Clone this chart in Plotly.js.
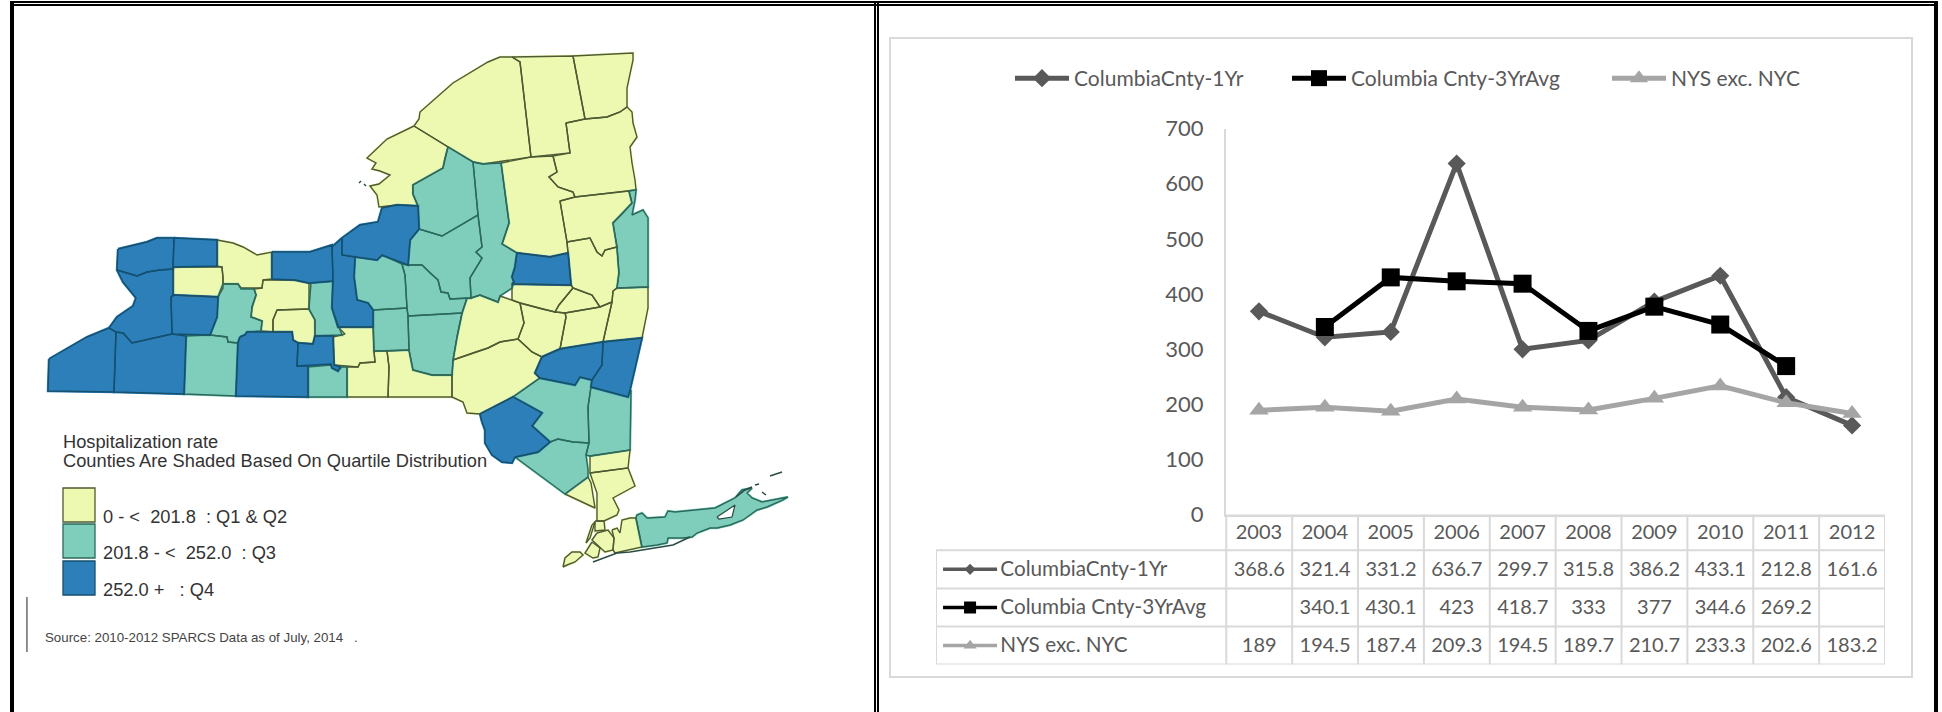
<!DOCTYPE html>
<html><head><meta charset="utf-8">
<script src="https://cdn.plot.ly/plotly-3.0.1.min.js"></script>
<style>html,body{margin:0;padding:0;background:#fff}#chart{width:1942px;height:712px}</style>
</head><body><div id="chart"></div>
<script>
// ---------- chart data ----------
const years = ['2003','2004','2005','2006','2007','2008','2009','2010','2011','2012'];
const columbia1Yr = [368.6,321.4,331.2,636.7,299.7,315.8,386.2,433.1,212.8,161.6];
const columbia3Yr = [null,340.1,430.1,423,418.7,333,377,344.6,269.2,null];
const nysExcNyc   = [189,194.5,187.4,209.3,194.5,189.7,210.7,233.3,202.6,183.2];
const seriesNames = ['ColumbiaCnty-1Yr','Columbia Cnty-3YrAvg','NYS exc. NYC'];
const seriesColors = ['#595959','#000000','#A5A5A5'];
const seriesSymbols = ['diamond','square','triangle-up'];
const yTicks = [0,100,200,300,400,500,600,700];

// ---------- map data: county outlines, map units ----------
const lowCounties = [ // Q1 & Q2
 [[173,267],[222,267],[223,278],[223,288],[218,297],[173,295]],
 [[217,240],[233,243],[243,247],[257,255],[272,252],[272,279],[263,280],[262,288],[241,288],[238,284],[223,284],[223,278],[222,267],[217,266]],
 [[263,280],[295,280],[309,283],[309,309],[277,310],[273,320],[273,332],[261,331],[262,321],[251,317],[252,307],[256,295],[254,289],[262,288]],
 [[277,310],[309,309],[315,320],[315,336],[313,344],[298,343],[293,340],[292,332],[273,332],[273,320]],
 [[414,126],[387,139],[367,158],[376,163],[372,169],[380,171],[390,175],[379,184],[370,186],[377,195],[379,207],[397,205],[418,206],[413,194],[413,185],[443,168],[445,158],[448,147]],
 [[414,126],[419,119],[420,112],[453,83],[488,62],[500,57],[512,57],[520,62],[531,157],[483,164],[473,162],[448,147]],
 [[512,57],[573,56],[585,119],[566,123],[570,153],[531,157],[520,62]],
 [[573,56],[633,53],[633,60],[630,73],[627,88],[627,107],[620,112],[607,117],[585,119]],
 [[566,123],[585,119],[607,117],[620,112],[627,107],[632,112],[633,123],[637,137],[630,147],[632,163],[635,180],[636,190],[575,197],[573,192],[558,187],[549,177],[557,172],[553,156],[570,153]],
 [[501,163],[531,157],[553,156],[557,172],[549,177],[558,187],[573,192],[575,197],[560,201],[567,242],[568,253],[550,257],[517,253],[502,244],[509,223]],
 [[512,284],[571,285],[573,288],[559,305],[555,312],[542,309],[520,303],[512,300]],
 [[567,242],[590,238],[597,252],[602,256],[605,250],[617,247],[619,273],[617,288],[613,291],[612,302],[600,307],[592,295],[573,288],[571,285],[568,253]],
 [[560,201],[575,197],[629,191],[632,203],[623,213],[613,223],[617,247],[605,250],[602,256],[597,252],[590,238],[567,242]],
 [[613,291],[617,288],[648,287],[648,308],[642,338],[603,342],[612,302]],
 [[573,288],[592,295],[600,307],[565,313],[555,312],[559,305]],
 [[565,313],[600,307],[612,302],[603,342],[560,349],[566,317]],
 [[520,303],[542,309],[555,312],[565,313],[566,317],[560,349],[542,357],[532,352],[518,339],[524,323]],
 [[467,298],[471,298],[480,295],[498,302],[500,296],[512,300],[520,303],[524,323],[518,339],[500,342],[488,348],[473,353],[453,360],[457,337],[462,313]],
 [[453,360],[473,353],[488,348],[500,342],[518,339],[532,352],[542,357],[535,373],[540,378],[513,397],[480,414],[467,413],[463,402],[452,397],[452,375]],
 [[338,327],[373,327],[374,351],[375,362],[360,363],[358,367],[334,365],[333,337],[345,334]],
 [[347,367],[358,367],[360,363],[375,362],[374,351],[387,351],[389,367],[388,397],[347,397]],
 [[387,351],[409,350],[413,370],[432,375],[452,375],[452,397],[388,397],[389,367]],
 [[590,456],[630,450],[628,468],[590,473]],
 [[565,494],[588,477],[591,483],[595,508]],
 [[590,473],[628,468],[635,486],[613,498],[619,510],[617,515],[604,521],[597,521],[597,493],[592,480]],
 [[595,521],[604,521],[605,530],[595,531]],
 [[592,525],[595,522],[590,538],[586,543]],
 [[597,533],[608,530],[614,538],[613,550],[605,552],[600,547],[592,540]],
 [[592,542],[600,548],[598,557],[593,558],[585,553]],
 [[563,567],[565,558],[572,552],[580,552],[583,555],[575,562],[567,565]],
 [[612,530],[617,528],[620,533],[622,520],[630,518],[636,518],[642,547],[628,550],[615,553],[613,550],[614,538]]
];
const midCounties = [ // Q3
 [[223,284],[238,284],[241,289],[254,289],[256,295],[252,307],[251,317],[262,321],[261,331],[247,332],[245,335],[240,337],[238,343],[228,342],[227,337],[210,335],[217,317],[218,297]],
 [[311,283],[333,281],[332,308],[342,335],[315,336],[315,320],[309,309]],
 [[355,257],[370,259],[377,260],[382,255],[387,257],[402,264],[405,275],[407,308],[373,310],[368,303],[357,300],[354,277]],
 [[402,264],[408,265],[422,265],[430,273],[438,280],[441,292],[448,293],[450,299],[467,298],[462,313],[408,316],[407,308],[405,275]],
 [[410,240],[419,229],[442,236],[478,215],[482,247],[476,252],[482,258],[470,278],[471,298],[450,299],[448,293],[441,292],[438,280],[430,273],[422,265],[408,265]],
 [[448,147],[445,158],[443,168],[413,185],[413,194],[418,206],[419,229],[442,236],[478,215],[473,162]],
 [[473,162],[483,164],[501,163],[509,223],[502,244],[517,253],[515,267],[512,277],[514,282],[512,288],[500,296],[498,302],[480,295],[471,298],[470,278],[482,258],[476,252],[482,247],[478,215]],
 [[629,191],[636,190],[635,200],[632,215],[643,210],[648,218],[648,287],[617,288],[619,273],[617,247],[613,223],[623,213],[632,203]],
 [[408,316],[462,313],[457,337],[453,360],[452,375],[432,375],[413,370],[409,350]],
 [[373,310],[407,308],[408,316],[409,350],[374,351]],
 [[186,336],[210,335],[227,337],[228,342],[238,343],[236,396],[184,394]],
 [[308,367],[331,365],[332,368],[338,371],[342,367],[347,367],[347,397],[308,397]],
 [[513,397],[540,378],[575,385],[580,377],[592,380],[591,387],[588,407],[589,443],[573,442],[558,439],[550,442],[532,426],[542,413]],
 [[591,387],[628,397],[631,390],[630,450],[590,456],[586,455],[589,443],[588,407]],
 [[515,457],[538,452],[550,442],[558,439],[573,442],[589,443],[586,455],[588,470],[588,477],[565,494]],
 [[636,518],[637,515],[642,513],[647,518],[649,518],[665,517],[668,511],[675,512],[715,508],[735,498],[742,490],[752,488],[747,493],[752,498],[762,502],[773,500],[788,497],[783,500],[767,507],[757,510],[743,520],[730,525],[717,528],[710,528],[697,533],[692,537],[683,538],[668,538],[667,543],[657,545],[642,547]]
];
const highCounties = [ // Q4
 [[49,359],[87,337],[109,328],[116,332],[114,392],[48,391]],
 [[116,332],[123,333],[132,343],[172,334],[186,336],[184,394],[114,392]],
 [[117,270],[127,273],[137,276],[147,272],[160,270],[173,269],[173,296],[171,297],[172,334],[132,343],[123,333],[116,332],[109,328],[117,317],[133,306],[136,298],[123,282]],
 [[118,249],[147,242],[157,238],[174,238],[173,269],[160,270],[147,272],[137,276],[127,273],[117,270]],
 [[174,238],[217,240],[217,266],[173,267]],
 [[171,297],[173,295],[218,297],[217,317],[210,335],[172,334]],
 [[272,252],[310,252],[332,245],[333,281],[309,283],[295,280],[272,279]],
 [[332,247],[342,238],[342,255],[355,257],[354,277],[357,300],[368,303],[373,310],[373,327],[338,327],[332,308],[333,281]],
 [[342,238],[360,225],[378,222],[382,208],[397,205],[418,206],[419,229],[410,240],[408,265],[387,257],[382,255],[377,260],[370,259],[355,257],[342,255]],
 [[517,253],[550,257],[568,253],[571,285],[512,284],[514,282],[512,277],[515,267]],
 [[240,337],[245,335],[247,332],[292,332],[293,340],[298,343],[297,366],[308,366],[308,397],[236,396],[238,343]],
 [[298,343],[313,344],[315,336],[333,336],[334,365],[340,367],[338,371],[332,368],[331,364],[297,366]],
 [[480,414],[513,397],[542,413],[532,426],[550,442],[538,452],[515,457],[512,463],[502,462],[492,455],[485,443],[485,430],[482,422]],
 [[542,357],[560,349],[603,342],[602,365],[592,380],[580,377],[575,385],[540,378],[535,373]],
 [[603,342],[642,338],[630,390],[628,397],[591,387],[592,380],[602,365]]
];
const waterOutlines = [ // Peconic Bay
 [[717,517],[735,505],[732,517],[719,519]]
];
const shoreLines = [ // barrier beach and small islands, no fill
 [[593,562],[617,553],[630,552],[647,549],[673,545],[690,537]],
 [[770,476],[782,472]],
 [[755,485],[759,484]],
 [[762,492],[766,495]],
 [[359,183],[361,181]],
 [[364,184],[366,186]],
 [[736,497],[745,490],[752,487]]
];
const quartileColors = ['#EDF8B1','#7FCDBB','#2C7FB8'];
const quartileLabels = ['0 - <  201.8  : Q1 & Q2','201.8 - <  252.0  : Q3','252.0 +   : Q4'];
const quartileEdges = ['#4d5a32','#2a6a5c','#14506f'];
const mapTitleLines = ['Hospitalization rate','Counties Are Shaded Based On Quartile Distribution'];
const sourceNote = 'Source: 2010-2012 SPARCS Data as of July, 2014';

// ---------- helpers ----------
const W = 1942, H = 712;
const fx = p => p / W, fy = p => 1 - p / H;
function flatten(polys, i){ const out=[]; polys.forEach(p=>{p.forEach(v=>out.push(v[i])); out.push(p[0][i]); out.push(null);}); return out; }
function openFlat(polys, i){ const out=[]; polys.forEach(p=>{p.forEach(v=>out.push(v[i])); out.push(null);}); return out; }

const traces = [];
const mapGroups = [lowCounties,midCounties,highCounties];
// fills, with a stroke of the same colour to close hairline gaps between traced outlines
mapGroups.forEach((polys,q)=>{
  traces.push({type:'scatter',mode:'lines',x:flatten(polys,0),y:flatten(polys,1),xaxis:'x3',yaxis:'y3',
    fill:'toself',fillcolor:quartileColors[q],line:{color:quartileColors[q],width:2.5},
    showlegend:false,hoverinfo:'skip',name:quartileLabels[q]});
});
// county outlines
mapGroups.forEach((polys,q)=>{
  traces.push({type:'scatter',mode:'lines',x:flatten(polys,0),y:flatten(polys,1),xaxis:'x3',yaxis:'y3',
    line:{color:quartileEdges[q],width:1.4},showlegend:false,hoverinfo:'skip'});
});
traces.push({type:'scatter',mode:'lines',x:flatten(waterOutlines,0),y:flatten(waterOutlines,1),xaxis:'x3',yaxis:'y3',
  fill:'toself',fillcolor:'#ffffff',line:{color:'#2a4a44',width:1.2},showlegend:false,hoverinfo:'skip'});
traces.push({type:'scatter',mode:'lines',x:openFlat(shoreLines,0),y:openFlat(shoreLines,1),xaxis:'x3',yaxis:'y3',
  line:{color:'#2a4a44',width:1.5},showlegend:false,hoverinfo:'skip'});

// line chart
const seriesValues = [columbia1Yr,columbia3Yr,nysExcNyc];
const markerSizes = [14,18,17];
const keySizes = [8.5,12,11.5];
const legendIds = ['legend','legend2','legend3'];
[0,1,2].forEach(i=>{
  traces.push({type:'scatter',mode:'lines+markers',name:seriesNames[i],x:years,y:seriesValues[i],legend:legendIds[i],
    line:{color:seriesColors[i],width:5},
    marker:{symbol:seriesSymbols[i],size:markerSizes[i],color:seriesColors[i]},cliponaxis:false,connectgaps:false});
});

// data table
const labelX = -3.93, keyX = [-4.8,-4.39,-3.98], textNudge = 0.04;
seriesNames.forEach((nm,i)=>{
  const rowY = i + 0.5;
  traces.push({type:'scatter',mode:'lines',x:keyX,y:keyX.map(()=>rowY),xaxis:'x2',yaxis:'y2',
    line:{color:seriesColors[i],width:3.5},showlegend:false,hoverinfo:'skip'});
  traces.push({type:'scatter',mode:'markers',x:[keyX[1]],y:[rowY],xaxis:'x2',yaxis:'y2',
    marker:{symbol:seriesSymbols[i],size:keySizes[i],color:seriesColors[i]},showlegend:false,hoverinfo:'skip'});
  traces.push({type:'scatter',mode:'text',x:[labelX],y:[rowY+textNudge],text:[nm],textposition:'middle right',xaxis:'x2',yaxis:'y2',
    textfont:{family:'Lato',size:20.7,color:'#595959'},showlegend:false,hoverinfo:'skip',cliponaxis:false});
  const xs=[],ys=[],ts=[];
  seriesValues[i].forEach((v,c)=>{ if(v!==null){xs.push(c);ys.push(rowY+textNudge);ts.push(String(v));} });
  traces.push({type:'scatter',mode:'text',x:xs,y:ys,text:ts,textposition:'middle center',xaxis:'x2',yaxis:'y2',
    textfont:{family:'Lato',size:20,color:'#595959'},showlegend:false,hoverinfo:'skip',cliponaxis:false});
});

// shapes
const shapes = [];
function band(x0,y0,x1,y1,color){ shapes.push({type:'rect',xref:'paper',yref:'paper',x0:fx(x0),x1:fx(x1),y0:fy(y0),y1:fy(y1),fillcolor:color,line:{width:0},layer:'below'}); }
band(10,1,1938,3,'#000'); band(10,4,1938,6,'#000');
band(10,1,14,712,'#000'); band(874,1,876,712,'#000'); band(877,1,879,712,'#000'); band(1934,1,1938,712,'#000');
band(26.3,597,27.6,652,'#555');
shapes.push({type:'rect',xref:'paper',yref:'paper',x0:fx(890),x1:fx(1912),y0:fy(38),y1:fy(677),fillcolor:'rgba(0,0,0,0)',line:{color:'#D9D9D9',width:2},layer:'below'});
const gridC = '#D9D9D9', tableL = -4.907;
const tl = (x0,y0,x1,y1)=>shapes.push({type:'line',xref:'x2',yref:'y2',x0,y0,x1,y1,line:{color:gridC,width:2},layer:'below'});
for(let r=0;r<=3;r++) tl(tableL,r,9.5,r);
tl(-0.5,-0.94,9.5,-0.94);
tl(tableL,0,tableL,3);
for(let c=0;c<=10;c++) tl(c-0.5,-0.94,c-0.5,3);
// map legend swatches
const swatchTop=[488,524,561], swatchBottom=[522,558,595];
quartileColors.forEach((c,q)=>shapes.push({type:'rect',xref:'x3',yref:'y3',x0:63,x1:95,y0:swatchTop[q],y1:swatchBottom[q],fillcolor:c,line:{color:quartileEdges[q],width:1.3},layer:'below'}));

// annotations
const annotations=[];
function note(text,x,y,size,color){annotations.push({text,x,y,xref:'x3',yref:'y3',xanchor:'left',yanchor:'middle',showarrow:false,align:'left',font:{family:'Liberation Sans',size,color:color||'#333'}});}
note(mapTitleLines[0],61,441,18.25);
note(mapTitleLines[1],61,460,18.25);
note(quartileLabels[0],101,516,18.25);
note(quartileLabels[1],101,552,18.25);
note(quartileLabels[2],101,589,18.25);
note(sourceNote,43,637,13.3,'#444');
note('.',352,637,13.3,'#444');

const legendBase = l => ({orientation:'h',x:fx(l),y:fy(58),xanchor:'left',yanchor:'top',itemwidth:54,
    font:{family:'Lato',size:21,color:'#595959'},bgcolor:'rgba(0,0,0,0)',itemclick:false,itemdoubleclick:false});

const layout = {
  width:W,height:H,margin:{l:0,r:0,t:0,b:0,pad:0},paper_bgcolor:'#fff',plot_bgcolor:'rgba(0,0,0,0)',
  hovermode:false,shapes,annotations,
  font:{family:'Lato',color:'#595959',size:20},
  showlegend:true,
  legend:legendBase(1010),legend2:legendBase(1287),legend3:legendBase(1607),
  xaxis:{domain:[fx(1226),fx(1885)],range:[-0.5,9.5],type:'category',categoryorder:'array',categoryarray:years,
    showgrid:false,zeroline:false,showline:true,linecolor:gridC,linewidth:2,ticks:'',tickfont:{family:'Lato',size:20,color:'#595959'},ticklabelstandoff:-2,anchor:'y',fixedrange:true},
  yaxis:{domain:[fy(514.5),fy(128.6)],range:[0,700],tickvals:yTicks,showgrid:false,zeroline:false,showline:true,linecolor:gridC,linewidth:2,
    ticks:'',tickfont:{family:'Lato',size:22,color:'#595959'},ticklabelstandoff:16,anchor:'x',fixedrange:true},
  xaxis2:{domain:[fx(936),fx(1885)],range:[tableL,9.5],visible:false,anchor:'y2',fixedrange:true},
  yaxis2:{domain:[fy(664.6),fy(514.5)],range:[3,-0.94],visible:false,anchor:'x2',fixedrange:true},
  xaxis3:{domain:[0,fx(875)],range:[0,875],visible:false,anchor:'y3',fixedrange:true},
  yaxis3:{domain:[0,1],range:[712,0],visible:false,anchor:'x3',fixedrange:true}
};
Plotly.newPlot('chart',traces,layout,{displayModeBar:false,responsive:false});
</script></body></html>
